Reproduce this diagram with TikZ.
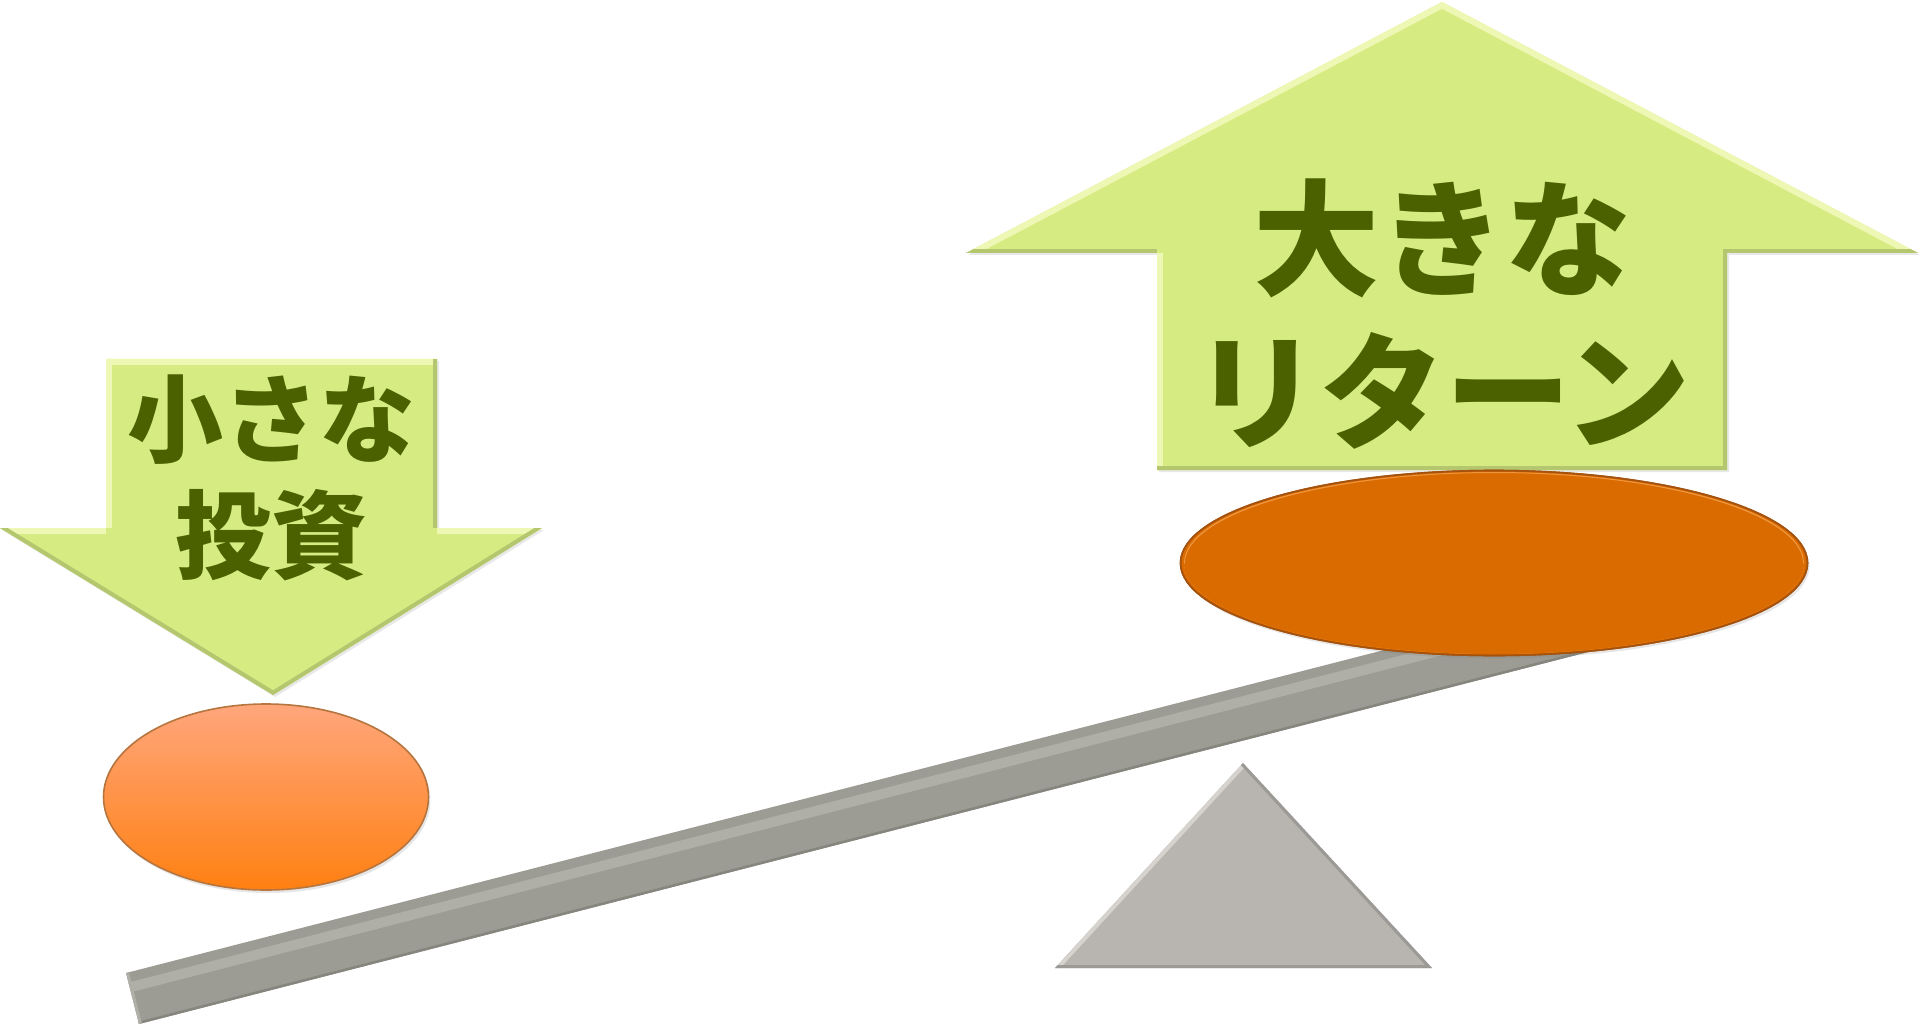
\documentclass[tikz,border=0pt]{standalone}
\usepackage{fontspec}
\usepackage{tikz}
\usetikzlibrary{shapes.geometric,shadows}

\newfontfamily\jpfont{Noto Sans CJK JP}

\definecolor{leafgreen}{HTML}{D7EB83}
\definecolor{leafrim}{HTML}{EEF8B4}
\definecolor{leafedge}{HTML}{B4C66E}
\definecolor{olivetext}{HTML}{4B6100}
\definecolor{potorange}{HTML}{D96B00}
\definecolor{potlight}{HTML}{F0953C}
\definecolor{potrim}{HTML}{A4520E}
\definecolor{peachtop}{HTML}{FFA67C}
\definecolor{peachbot}{HTML}{FF8012}
\definecolor{beamgray}{HTML}{9C9C94}
\definecolor{beamlight}{HTML}{AFAFA7}
\definecolor{beamdark}{HTML}{86867E}
\definecolor{stonegray}{HTML}{B8B5B0}
\definecolor{stonelight}{HTML}{D6D3CE}

\begin{document}
\begin{tikzpicture}[x=0.5pt,y=-0.5pt,
    arrowbox/.style={fill=leafgreen,
      drop shadow={opacity=0.18,shadow xshift=1pt,shadow yshift=-1pt}},
    rimband/.style={draw=leafrim,line width=6pt,line join=miter},
    shadeband/.style={draw=leafedge,line width=4pt,line join=miter},
    arrowtext/.style={text=olivetext,align=center,inner sep=0pt},
    pot/.style={ellipse,inner sep=0pt,line width=0.8pt,
      drop shadow={opacity=0.2,shadow xshift=1pt,shadow yshift=-1.5pt}}]

  \useasboundingbox (0,0) rectangle (1920,1026);

  % down arrow
  \path[arrowbox] (106,359) -- (437,359) -- (437,528) -- (542,528) -- (273,695)
    -- (0,528) -- (106,528) -- cycle;
  \begin{scope}
    \clip (106,359) -- (437,359) -- (437,528) -- (542,528) -- (273,695)
      -- (0,528) -- (106,528) -- cycle;
    \draw[rimband] (106,528) -- (106,359) -- (437,359);
    \draw[rimband] (0,528) -- (106,528);
    \draw[rimband] (437,528) -- (542,528);
    \draw[shadeband] (437,359) -- (437,528);
    \draw[shadeband] (542,528) -- (273,695) -- (0,528);
  \end{scope}
  \node[arrowtext,font=\jpfont\bfseries\fontsize{48}{58}\selectfont] (smallinvest) at (271,478) {小さな\\投資};

  % small pot
  \node[pot,minimum width=162.5pt,minimum height=93pt,top color=peachtop,bottom color=peachbot,
    draw=potrim!80] (smallpot) at (266,797) {};

  % beam
  \coordinate (beamtl) at (126,973);
  \coordinate (beamtr) at (1766,552);
  \coordinate (beambr) at (1779,603);
  \coordinate (beambl) at (139,1024);
  \fill[beamgray] (beamtl) -- (beamtr) -- (beambr) -- (beambl) -- cycle;
  \begin{scope}
    \clip (beamtl) -- (beamtr) -- (beambr) -- (beambl) -- cycle;
    \draw[beamlight,line width=5pt] (131,987) -- (1769,566);
    \draw[beamdark,line width=2.5pt] (beambl) -- (beambr);
    \draw[beamlight,line width=3pt] (beamtl) -- (beambl);
  \end{scope}

  % fulcrum
  \coordinate (peak) at (1243,763);
  \coordinate (footl) at (1055,968);
  \coordinate (footr) at (1432,968);
  \fill[stonegray] (peak) -- (footr) -- (footl) -- cycle;
  \begin{scope}
    \clip (peak) -- (footr) -- (footl) -- cycle;
    \draw[stonelight,line width=4pt] (footl) -- (peak);
    \draw[stonegray!85!black,line width=3pt] (peak) -- (footr) -- (footl);
  \end{scope}

  % up arrow
  \path[arrowbox] (1442,2) -- (1918,253) -- (1727,253) -- (1727,470) -- (1157,470)
    -- (1157,253) -- (966,253) -- cycle;
  \begin{scope}
    \clip (1442,2) -- (1918,253) -- (1727,253) -- (1727,470) -- (1157,470)
      -- (1157,253) -- (966,253) -- cycle;
    \draw[rimband] (966,253) -- (1442,2) -- (1918,253);
    \draw[rimband] (1157,470) -- (1157,253);
    \draw[shadeband] (1918,253) -- (1727,253) -- (1727,470) -- (1157,470);
    \draw[shadeband] (1157,253) -- (966,253);
  \end{scope}
  \node[arrowtext,font=\jpfont\bfseries\fontsize{63}{76.5}\selectfont] (bigreturn) at (1442,314) {大きな\\リターン};

  % big pot
  \node[pot,minimum width=313.5pt,minimum height=92.5pt,fill=potorange,draw=potrim] (bigpot) at (1494,563) {};
  \begin{scope}
    \clip (bigpot.center) ellipse [x radius=155pt,y radius=45.5pt];
    \draw[potlight,line width=3pt] (bigpot.center) ellipse [x radius=156pt,y radius=46.5pt];
    \fill[potorange] ([yshift=-6pt]bigpot.center) ellipse [x radius=156pt,y radius=45pt];
  \end{scope}
  \draw[potrim,line width=0.8pt] (bigpot.center) ellipse [x radius=156.75pt,y radius=46.25pt];
\end{tikzpicture}
\end{document}
